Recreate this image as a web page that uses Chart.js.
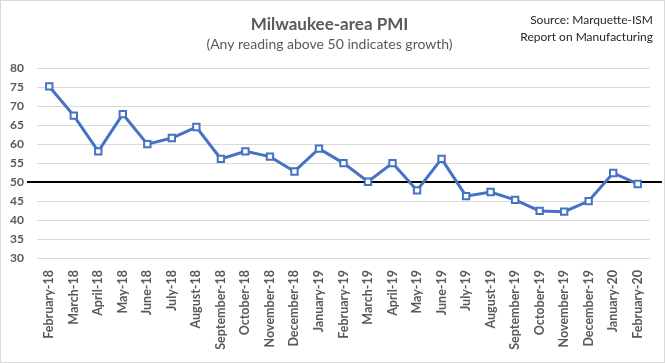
<!DOCTYPE html>
<html>
<head>
<meta charset="utf-8">
<script src="https://cdn.jsdelivr.net/npm/chart.js@4"></script>
<style>
  html, body { margin: 0; padding: 0; background: #fff; }
  canvas { display: block; }
</style>
</head>
<body>
<canvas id="pmiChart" width="665" height="363"></canvas>
<script>
// 月ラベル
const months = [
  'February-18', 'March-18', 'April-18', 'May-18', 'June-18', 'July-18',
  'August-18', 'September-18', 'October-18', 'November-18', 'December-18',
  'January-19', 'February-19', 'March-19', 'April-19', 'May-19', 'June-19',
  'July-19', 'August-19', 'September-19', 'October-19', 'November-19',
  'December-19', 'January-20', 'February-20'
];

// PMI値
const pmiValues = [
  75.2, 67.5, 58.1, 67.9, 60.0, 61.6, 64.5, 56.1, 58.1, 56.7, 52.8,
  58.8, 55.0, 50.1, 55.0, 47.8, 56.1, 46.3, 47.4, 45.3, 42.4, 42.2,
  45.0, 52.4, 49.5
];

// 縦軸の範囲と成長の境目
const yMin = 30;
const yMax = 80;
const yStep = 5;
const growthLine = 50;

const titleText = 'Milwaukee-area PMI';
const subtitleText = '(Any reading above 50 indicates growth)';
const sourceLines = ['Source: Marquette-ISM', 'Report on Manufacturing'];

const grayText = '#595959';
const fontFamily = 'Lato, "Open Sans", sans-serif';

// 50の黒線（マーカーより下に描く）
const growthLinePlugin = {
  id: 'growthLine',
  beforeDatasetsDraw(chart) {
    const { ctx, chartArea, scales } = chart;
    const y = scales.y.getPixelForValue(growthLine);
    ctx.save();
    ctx.strokeStyle = '#000';
    ctx.lineWidth = 2;
    ctx.beginPath();
    ctx.moveTo(chartArea.left - 10, y);
    ctx.lineTo(chartArea.right + 12, y);
    ctx.stroke();
    ctx.restore();
  }
};

// 右上の出典と外枠
const sourcePlugin = {
  id: 'sourceNote',
  afterDraw(chart) {
    const { ctx, width, height } = chart;
    ctx.save();
    ctx.fillStyle = '#262626';
    ctx.font = '12px ' + fontFamily;
    ctx.textAlign = 'right';
    ctx.textBaseline = 'middle';
    sourceLines.forEach((line, i) => {
      ctx.fillText(line, width - 12, 20 + i * 17);
    });
    ctx.strokeStyle = '#d9d9d9';
    ctx.lineWidth = 1;
    ctx.strokeRect(0.5, 0.5, width - 1, height - 1);
    ctx.restore();
  }
};

new Chart(document.getElementById('pmiChart').getContext('2d'), {
  type: 'line',
  data: {
    labels: months,
    datasets: [{
      data: pmiValues,
      borderColor: '#4472C4',
      borderWidth: 3,
      pointStyle: 'rect',
      pointRadius: 4.5,
      pointBorderWidth: 2,
      pointBackgroundColor: '#fff',
      pointBorderColor: '#4472C4',
      tension: 0
    }]
  },
  options: {
    responsive: false,
    animation: false,
    devicePixelRatio: 1,
    layout: { padding: { left: 9, right: 15, top: 0, bottom: 0 } },
    plugins: {
      legend: { display: false },
      tooltip: { enabled: false },
      title: {
        display: true,
        text: titleText,
        color: grayText,
        font: { family: fontFamily, size: 17, weight: 'bold' },
        padding: { top: 14, bottom: 2 }
      },
      subtitle: {
        display: true,
        text: subtitleText,
        color: grayText,
        font: { family: fontFamily, size: 14 },
        padding: { top: 0, bottom: 15 }
      }
    },
    scales: {
      x: {
        offset: true,
        grid: { display: false, drawTicks: false },
        border: { display: false },
        afterFit(scale) { scale.height = 105; },
        ticks: {
          color: grayText,
          font: { family: fontFamily, size: 12.5, weight: 'bold' },
          minRotation: 90,
          maxRotation: 90,
          autoSkip: false,
          padding: 12
        }
      },
      y: {
        min: yMin,
        max: yMax,
        border: { display: false },
        grid: { color: '#d9d9d9', drawTicks: false, lineWidth: 1 },
        afterFit(scale) { scale.width = 28; },
        ticks: {
          stepSize: yStep,
          color: grayText,
          font: { family: fontFamily, size: 12, weight: 'bold' },
          padding: 13
        }
      }
    }
  },
  plugins: [growthLinePlugin, sourcePlugin]
});
</script>
</body>
</html>
